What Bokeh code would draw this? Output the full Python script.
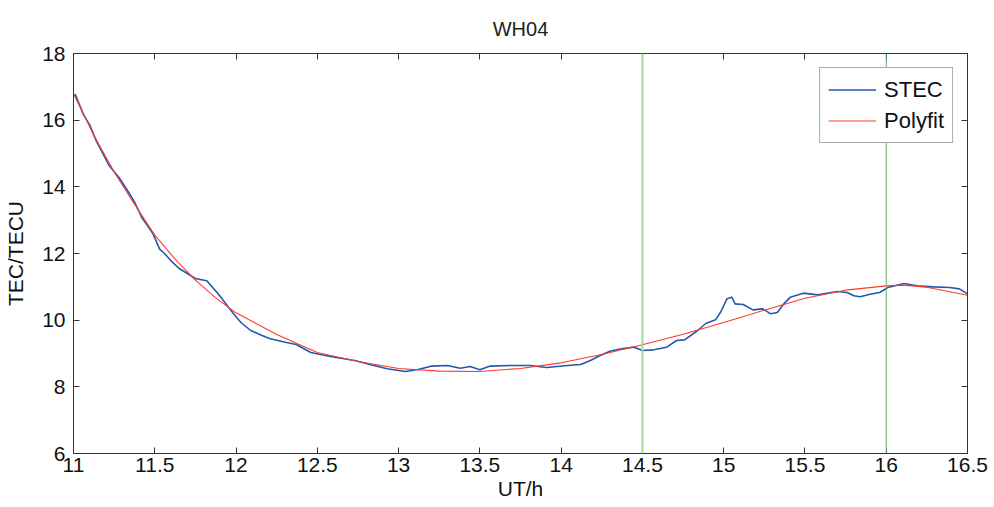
from bokeh.plotting import figure
from bokeh.models import LinearAxis, Span, Legend, LegendItem, FixedTicker, Range1d
from bokeh.embed import file_html
from bokeh.resources import INLINE

title = "WH04"
x_label = "UT/h"
y_label = "TEC/TECU"

stec_t = [11.01, 11.06, 11.10, 11.14, 11.18, 11.22, 11.28, 11.34, 11.38, 11.42, 11.46, 11.49,
          11.53, 11.56, 11.60, 11.65, 11.69, 11.75, 11.78, 11.82, 11.89, 11.97, 12.03, 12.09,
          12.16, 12.21, 12.31, 12.37, 12.46, 12.58, 12.73, 12.83, 12.93, 13.04, 13.12, 13.20,
          13.30, 13.38, 13.44, 13.50, 13.56, 13.69, 13.81, 13.91, 14.04, 14.12, 14.18, 14.24,
          14.30, 14.37, 14.45, 14.50, 14.57, 14.65, 14.71, 14.76, 14.84, 14.89, 14.95, 14.98,
          15.02, 15.05, 15.07, 15.12, 15.18, 15.24, 15.29, 15.33, 15.37, 15.41, 15.49, 15.58,
          15.70, 15.76, 15.80, 15.84, 15.90, 15.96, 16.01, 16.11, 16.19, 16.29, 16.39, 16.45,
          16.50]
stec_v = [16.78, 16.18, 15.85, 15.38, 15.00, 14.63, 14.28, 13.83, 13.50, 13.08, 12.80, 12.58,
          12.13, 12.00, 11.78, 11.55, 11.43, 11.25, 11.22, 11.18, 10.79, 10.28, 9.93, 9.69,
          9.54, 9.44, 9.33, 9.27, 9.03, 8.91, 8.79, 8.66, 8.54, 8.46, 8.52, 8.62,
          8.64, 8.56, 8.61, 8.51, 8.62, 8.64, 8.64, 8.58, 8.64, 8.67, 8.79, 8.94,
          9.07, 9.14, 9.19, 9.09, 9.11, 9.19, 9.39, 9.41, 9.69, 9.90, 10.01, 10.23,
          10.64, 10.69, 10.49, 10.47, 10.31, 10.34, 10.19, 10.23, 10.49, 10.69, 10.81, 10.76,
          10.86, 10.83, 10.73, 10.70, 10.78, 10.83, 10.98, 11.10, 11.03, 11.00, 10.98, 10.94,
          10.79]

fit_t = [11.0, 11.125, 11.25, 11.375, 11.5, 11.625, 11.75, 11.875, 12.0, 12.25, 12.5, 12.75,
         13.0, 13.25, 13.5, 13.75, 14.0, 14.25, 14.5, 14.75, 15.0, 15.25, 15.5, 15.75,
         16.0, 16.1, 16.25, 16.5]
fit_v = [16.80, 15.55, 14.45, 13.48, 12.55, 11.83, 11.20, 10.67, 10.22, 9.57, 9.03, 8.76,
         8.55, 8.47, 8.46, 8.55, 8.72, 8.97, 9.26, 9.58, 9.93, 10.30, 10.66, 10.90,
         11.03, 11.05, 10.99, 10.75]

x_ticks = [11, 11.5, 12, 12.5, 13, 13.5, 14, 14.5, 15, 15.5, 16, 16.5]
y_ticks = [6, 8, 10, 12, 14, 16, 18]
marker_t = [14.5, 16.0]

FONT = "Liberation Sans"
AX = "#333333"

p = figure(width=994, height=507, output_backend="svg", toolbar_location=None,
           x_range=Range1d(11, 16.5), y_range=Range1d(6, 18),
           min_border_left=73, min_border_right=27, min_border_top=53, min_border_bottom=54,
           x_axis_location=None, y_axis_location=None)
p.grid.visible = False
p.outline_line_color = AX
p.title.text = title
p.title.align = "center"
p.title.text_font = FONT
p.title.text_font_size = "20px"
p.title.text_font_style = "normal"
p.title.text_color = "#222222"
p.title.offset = 0
p.title.standoff = 28

def mk_axis(cls_kwargs, show):
    ax = LinearAxis(**cls_kwargs)
    ax.major_tick_in = 6
    ax.major_tick_out = 0
    ax.minor_tick_in = 0
    ax.minor_tick_out = 0
    ax.axis_line_color = AX
    ax.major_tick_line_color = AX
    ax.major_label_text_font = FONT
    ax.major_label_text_font_size = "21px"
    ax.major_label_text_color = "#111111" if show else None
    ax.axis_label_text_font = FONT
    ax.axis_label_text_font_size = "21px"
    ax.axis_label_text_font_style = "normal"
    ax.axis_label_text_color = "#111111"
    return ax

xb = mk_axis(dict(ticker=FixedTicker(ticks=x_ticks), axis_label=x_label), True)
xb.major_label_standoff = 4
xb.axis_label_standoff = 2
xt = mk_axis(dict(ticker=FixedTicker(ticks=x_ticks)), False)
yl = mk_axis(dict(ticker=FixedTicker(ticks=y_ticks), axis_label=y_label), True)
yl.major_label_standoff = 8
yl.axis_label_standoff = 12
yr = mk_axis(dict(ticker=FixedTicker(ticks=y_ticks)), False)
p.add_layout(xb, "below")
p.add_layout(xt, "above")
p.add_layout(yl, "left")
p.add_layout(yr, "right")
xt.major_label_text_font_size = "0px"
yr.major_label_text_font_size = "0px"

r1 = p.line(stec_t, stec_v, line_color="#2457b0", line_width=1.6)
r2 = p.line(fit_t, fit_v, line_color="#ff3a28", line_width=1.1)

leg = Legend(items=[LegendItem(label="STEC", renderers=[r1]),
                    LegendItem(label="Polyfit", renderers=[r2])],
             location="top_right")
leg.label_text_font = FONT
leg.label_text_font_size = "22px"
leg.label_text_color = "#111111"
leg.glyph_width = 48
leg.glyph_height = 27
leg.label_height = 27
leg.label_standoff = 8
leg.spacing = 4
leg.padding = 8
leg.margin = 14
leg.border_line_color = "#555555"
leg.border_line_width = 1
leg.background_fill_alpha = 1.0
p.add_layout(leg)

p.add_layout(Span(location=marker_t[0], dimension="height", line_color="#9fd99f", line_width=2))
p.add_layout(Span(location=marker_t[1], dimension="height", line_color="#6aaa6a", line_width=1))

open("out.html", "w").write(file_html(p, INLINE))
